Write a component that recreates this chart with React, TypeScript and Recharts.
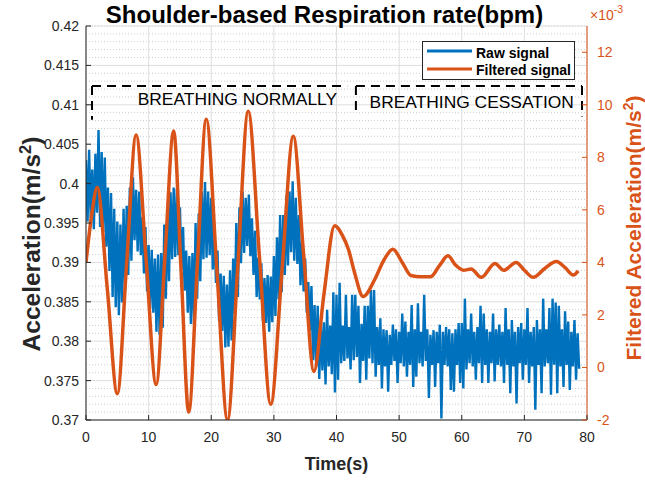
import React from 'react';
import { LineChart, Line, XAxis, YAxis, CartesianGrid, ReferenceLine } from 'recharts';

const BLUE = '#0072BD';
const ORANGE = '#D95319';
const AXIS = '#262626';
const FONT = "'Liberation Sans', Arial, Helvetica, sans-serif";

// Raw signal: local highs sampled at t = 0, 0.5, 1.0 ... and local lows half a step later
const rawHalfStep = 0.25;
const rawPeaks = [
  0.4030, 0.4043, 0.4018, 0.4038, 0.4068, 0.4040, 0.4033, 0.3995, 0.3988, 0.3968,
  0.3952, 0.3948, 0.3968, 0.3972, 0.3995, 0.4008, 0.3992, 0.3990, 0.3958, 0.3945,
  0.3922, 0.3916, 0.3905, 0.3910, 0.3912, 0.3948, 0.3960, 0.3989, 0.3995, 0.3993,
  0.3970, 0.3945, 0.3915, 0.3908, 0.3912, 0.3950, 0.3962, 0.3990, 0.4002, 0.3990,
  0.3982, 0.3946, 0.3915, 0.3886, 0.3883, 0.3872, 0.3890, 0.3905, 0.3950, 0.3970,
  0.3990, 0.3982, 0.3986, 0.3956, 0.3940, 0.3906, 0.3899, 0.3880, 0.3884, 0.3882,
  0.3908, 0.3932, 0.3960, 0.3960, 0.3985, 0.3990, 0.4003, 0.3982, 0.3960, 0.3926,
  0.3905, 0.3875, 0.3870, 0.3846, 0.3845, 0.3826, 0.3824, 0.3840, 0.3820, 0.3862,
  0.3859, 0.3874, 0.3820, 0.3859, 0.3818, 0.3859, 0.3859, 0.3845, 0.3822, 0.3845,
  0.3845, 0.3865, 0.3865, 0.3818, 0.3829, 0.3815, 0.3814, 0.3808, 0.3821, 0.3815,
  0.3812, 0.3835, 0.3825, 0.3812, 0.3846, 0.3815, 0.3848, 0.3812, 0.3859, 0.3815,
  0.3808, 0.3814, 0.3812, 0.3821, 0.3812, 0.3818, 0.3815, 0.3810, 0.3815, 0.3823,
  0.3823, 0.3854, 0.3815, 0.3835, 0.3812, 0.3818, 0.3845, 0.3835, 0.3815, 0.3812,
  0.3835, 0.3815, 0.3821, 0.3812, 0.3842, 0.3815, 0.3827, 0.3812, 0.3818, 0.3823,
  0.3815, 0.3842, 0.3812, 0.3818, 0.3827, 0.3815, 0.3854, 0.3815, 0.3842, 0.3854,
  0.3849, 0.3845, 0.3815, 0.3838, 0.3825, 0.3812, 0.3827, 0.3810,
];
const rawTroughs = [
  0.3952, 0.3956, 0.3942, 0.3963, 0.3945, 0.3938, 0.3920, 0.3889, 0.3856, 0.3843,
  0.3833, 0.3849, 0.3864, 0.3884, 0.3902, 0.3928, 0.3914, 0.3909, 0.3886, 0.3863,
  0.3841, 0.3836, 0.3812, 0.3808, 0.3817, 0.3854, 0.3876, 0.3904, 0.3907, 0.3909,
  0.3891, 0.3864, 0.3836, 0.3822, 0.3821, 0.3854, 0.3876, 0.3904, 0.3906, 0.3909,
  0.3891, 0.3874, 0.3826, 0.3813, 0.3792, 0.3793, 0.3801, 0.3834, 0.3856, 0.3899,
  0.3912, 0.3921, 0.3908, 0.3884, 0.3856, 0.3853, 0.3826, 0.3823, 0.3812, 0.3824,
  0.3832, 0.3853, 0.3862, 0.3884, 0.3896, 0.3913, 0.3902, 0.3898, 0.3871, 0.3863,
  0.3836, 0.3813, 0.3776, 0.3768, 0.3752, 0.3763, 0.3745, 0.3768, 0.3758, 0.3735,
  0.3751, 0.3772, 0.3775, 0.3778, 0.3764, 0.3776, 0.3780, 0.3747, 0.3775, 0.3751,
  0.3778, 0.3772, 0.3755, 0.3770, 0.3740, 0.3768, 0.3736, 0.3770, 0.3775, 0.3747,
  0.3772, 0.3768, 0.3755, 0.3770, 0.3742, 0.3755, 0.3772, 0.3768, 0.3775, 0.3728,
  0.3770, 0.3742, 0.3772, 0.3702, 0.3770, 0.3768, 0.3738, 0.3736, 0.3770, 0.3747,
  0.3740, 0.3764, 0.3772, 0.3768, 0.3751, 0.3772, 0.3747, 0.3770, 0.3747, 0.3772,
  0.3749, 0.3770, 0.3768, 0.3747, 0.3770, 0.3734, 0.3768, 0.3721, 0.3772, 0.3751,
  0.3770, 0.3747, 0.3768, 0.3713, 0.3770, 0.3734, 0.3768, 0.3772, 0.3732, 0.3770,
  0.3734, 0.3768, 0.3742, 0.3770, 0.3738, 0.3768, 0.3751, 0.3765,
];

// Filtered signal (x10^-3)
const filteredTime = [
  0, 0.9, 1.8, 3.4, 5.0, 6.5, 8.0, 9.6, 11.2, 12.6, 14.0, 15.2, 16.4, 17.8, 19.2,
  20.9, 22.6, 24.25, 25.9, 27.7, 29.5, 31.3, 33.1, 34.75, 36.4, 38.0, 39.7, 41.0,
  41.9, 42.9, 44.25, 46.1, 47.6, 49.0, 50.5, 51.9, 53.5, 55.0, 56.5, 57.8, 59.0,
  60.3, 61.5, 63.1, 65.3, 66.7, 68.7, 70.0, 71.4, 73.3, 75.1, 76.5, 77.8, 78.6,
];
const filteredValue = [
  4.0, 5.8, 6.85, 3.0, -1.0, 4.0, 8.85, 4.1, -0.65, 4.2, 9.0, 3.6, -1.7, 4.0, 9.45,
  3.7, -2.0, 3.9, 9.75, 4.2, -1.4, 3.7, 8.8, 4.3, -0.15, 2.8, 5.4, 5.0,
  4.5, 3.6, 2.7, 3.35, 4.1, 4.5, 4.0, 3.5, 3.45, 3.45, 3.9, 4.25, 3.9,
  3.7, 3.75, 3.43, 3.96, 3.7, 4.0, 3.7, 3.43, 3.78, 4.03, 3.8, 3.52, 3.68,
];

const xTicks = [0, 10, 20, 30, 40, 50, 60, 70, 80];
const leftTicks = [0.37, 0.375, 0.38, 0.385, 0.39, 0.395, 0.4, 0.405, 0.41, 0.415, 0.42];
const rightTicks = [-2, 0, 2, 4, 6, 8, 10, 12];
const minorXTicks: number[] = [];
for (let i = 0; i <= 80; i += 2) if (i % 10 !== 0) minorXTicks.push(i);
const minorYTicks: number[] = [];
for (let i = 370; i <= 420; i += 1) if (i % 5 !== 0) minorYTicks.push(i / 1000);

const rawData = rawPeaks.flatMap((p, i) => [
  { t: 2 * i * rawHalfStep, v: p },
  { t: (2 * i + 1) * rawHalfStep, v: rawTroughs[i] },
]);
const filteredData = filteredTime.map((t, i) => ({ t, v: filteredValue[i] }));

// annotation boxes (data coordinates, left axis)
const boxTop = 0.4124;
const box1 = { x0: 0.96, x1: 41.7, bottom: 0.4081 };
const box2 = { x0: 43.1, x1: 79.2, bottomL: 0.4087, bottomR: 0.4085 };

const TICK_FONT = 14;

const LeftTick = (props: any) => {
  const { x, y, payload } = props;
  return (
    <g>
      <line x1={x + 7} x2={x + 12} y1={y} y2={y} stroke={AXIS} strokeWidth={1} />
      <text x={x} y={y} dy="0.35em" textAnchor="end" fontSize={TICK_FONT} fill={AXIS} fontFamily={FONT}>
        {String(payload.value)}
      </text>
    </g>
  );
};
const RightTick = (props: any) => {
  const { x, y, payload } = props;
  return (
    <g>
      <line x1={x - 10} x2={x - 15} y1={y} y2={y} stroke={ORANGE} strokeWidth={1} />
      <text x={x} y={y} dy="0.35em" textAnchor="start" fontSize={TICK_FONT} fill={ORANGE} fontFamily={FONT}>
        {String(payload.value)}
      </text>
    </g>
  );
};
const BottomTick = (props: any) => {
  const { x, y, payload } = props;
  return (
    <g>
      <line x1={x} x2={x} y1={y} y2={y - 5} stroke={AXIS} strokeWidth={1} />
      <text x={x} y={y + 21.5} textAnchor="middle" fontSize={TICK_FONT} fill={AXIS} fontFamily={FONT}>
        {String(payload.value)}
      </text>
    </g>
  );
};
const TopTick = (props: any) => {
  const { x, y } = props;
  return <line x1={x} x2={x} y1={y} y2={y + 5} stroke={AXIS} strokeWidth={1} />;
};

const dash = { stroke: '#000', strokeWidth: 2, strokeDasharray: '9 6' };

export default function App() {
  return (
    <div style={{ position: 'absolute', left: 0, top: 0, width: 645, height: 483, background: '#fff' }}>
      <LineChart width={645} height={483} margin={{ top: 26, right: 0, bottom: 0, left: 0 }}>
        <XAxis
          xAxisId="x"
          type="number"
          dataKey="t"
          domain={[0, 80]}
          ticks={xTicks}
          interval={0}
          height={63}
          tickSize={0}
          tickMargin={0}
          tick={<BottomTick />}
          axisLine={{ stroke: AXIS }}
          allowDataOverflow
        />
        <XAxis
          xAxisId="top"
          orientation="top"
          type="number"
          domain={[0, 80]}
          ticks={xTicks}
          interval={0}
          height={0}
          tickSize={0}
          tickMargin={0}
          tick={<TopTick />}
          axisLine={{ stroke: AXIS }}
          allowDataOverflow
        />
        <YAxis
          yAxisId="left"
          type="number"
          domain={[0.37, 0.42]}
          ticks={leftTicks}
          interval={0}
          width={86}
          tickSize={0}
          tickMargin={7}
          tick={<LeftTick />}
          axisLine={{ stroke: AXIS }}
          allowDataOverflow
        />
        <YAxis
          yAxisId="right"
          orientation="right"
          type="number"
          domain={[-2, 13]}
          ticks={rightTicks}
          interval={0}
          width={58}
          tickSize={0}
          tickMargin={10}
          tick={<RightTick />}
          axisLine={{ stroke: ORANGE }}
          allowDataOverflow
        />
        <XAxis xAxisId="mx" type="number" domain={[0, 80]} ticks={minorXTicks} interval={0} hide height={0} allowDataOverflow />
        <YAxis yAxisId="my" type="number" domain={[0.37, 0.42]} ticks={minorYTicks} interval={0} hide width={0} allowDataOverflow />
        <CartesianGrid xAxisId="mx" yAxisId="my" stroke="#cdcdcd" strokeDasharray="1 2" />
        <CartesianGrid xAxisId="x" yAxisId="left" stroke="#dedede" />
        <Line
          xAxisId="x"
          yAxisId="left"
          data={rawData}
          dataKey="v"
          type="linear"
          stroke={BLUE}
          strokeWidth={2.4}
          dot={false}
          isAnimationActive={false}
        />
        <Line
          xAxisId="x"
          yAxisId="right"
          data={filteredData}
          dataKey="v"
          type="monotone"
          stroke={ORANGE}
          strokeWidth={3.5}
          dot={false}
          isAnimationActive={false}
        />
        <ReferenceLine xAxisId="x" yAxisId="left" ifOverflow="visible" segment={[{ x: box1.x0, y: boxTop }, { x: box1.x1, y: boxTop }]} {...dash} />
        <ReferenceLine xAxisId="x" yAxisId="left" ifOverflow="visible" segment={[{ x: box1.x0, y: boxTop }, { x: box1.x0, y: box1.bottom }]} {...dash} />
        <ReferenceLine xAxisId="x" yAxisId="left" ifOverflow="visible" segment={[{ x: box2.x0, y: boxTop }, { x: box2.x1, y: boxTop }]} {...dash} />
        <ReferenceLine xAxisId="x" yAxisId="left" ifOverflow="visible" segment={[{ x: box2.x0, y: boxTop }, { x: box2.x0, y: box2.bottomL }]} {...dash} />
        <ReferenceLine xAxisId="x" yAxisId="left" ifOverflow="visible" segment={[{ x: box2.x1, y: boxTop }, { x: box2.x1, y: box2.bottomR }]} {...dash} />
      </LineChart>

      <svg width={645} height={483} style={{ position: 'absolute', left: 0, top: 0, pointerEvents: 'none' }}>
        <text x={324.5} y={23} textAnchor="middle" fontSize={24} fontWeight="bold" fill="#000" fontFamily={FONT}>
          Shoulder-based Respiration rate(bpm)
        </text>
        <text x={590} y={20} fontSize={14} fill={ORANGE} fontFamily={FONT}>
          ×10<tspan fontSize={10.5} dy={-7}>-3</tspan>
        </text>
        <text x={237.4} y={105} textAnchor="middle" fontSize={17.4} fill="#000" fontFamily={FONT}>
          BREATHING NORMALLY
        </text>
        <text x={471.7} y={108.3} textAnchor="middle" fontSize={17.4} fill="#000" fontFamily={FONT}>
          BREATHING CESSATION
        </text>
        <text x={336.5} y={470} textAnchor="middle" fontSize={18} fontWeight="bold" fill={AXIS} fontFamily={FONT}>
          Time(s)
        </text>
        <text transform="translate(40,244) rotate(-90)" textAnchor="middle" fontSize={24.5} fontWeight="bold" fill={AXIS} fontFamily={FONT}>
          Acceleration(m/s<tspan fontSize={16.5} dy={-9}>2</tspan><tspan dy={9}>)</tspan>
        </text>
        <text transform="translate(641,228) rotate(-90)" textAnchor="middle" fontSize={21} fontWeight="bold" fill={ORANGE} fontFamily={FONT}>
          Filtered Acceleration(m/s<tspan fontSize={14} dy={-8}>2</tspan><tspan dy={8}>)</tspan>
        </text>
      </svg>

      <div
        style={{
          position: 'absolute',
          left: 422,
          top: 41,
          width: 153,
          height: 39,
          border: '1px solid #262626',
          background: '#fff',
          boxSizing: 'border-box',
        }}
      >
        <svg width={151} height={37} style={{ display: 'block' }}>
          <line x1={4} x2={49} y1={9} y2={9} stroke={BLUE} strokeWidth={3} />
          <text x={53} y={16} fontSize={14} fontWeight="bold" fill="#000" fontFamily={FONT}>Raw signal</text>
          <line x1={4} x2={49} y1={27} y2={27} stroke={ORANGE} strokeWidth={3} />
          <text x={53} y={33} fontSize={14} fontWeight="bold" fill="#000" fontFamily={FONT}>Filtered signal</text>
        </svg>
      </div>
    </div>
  );
}
